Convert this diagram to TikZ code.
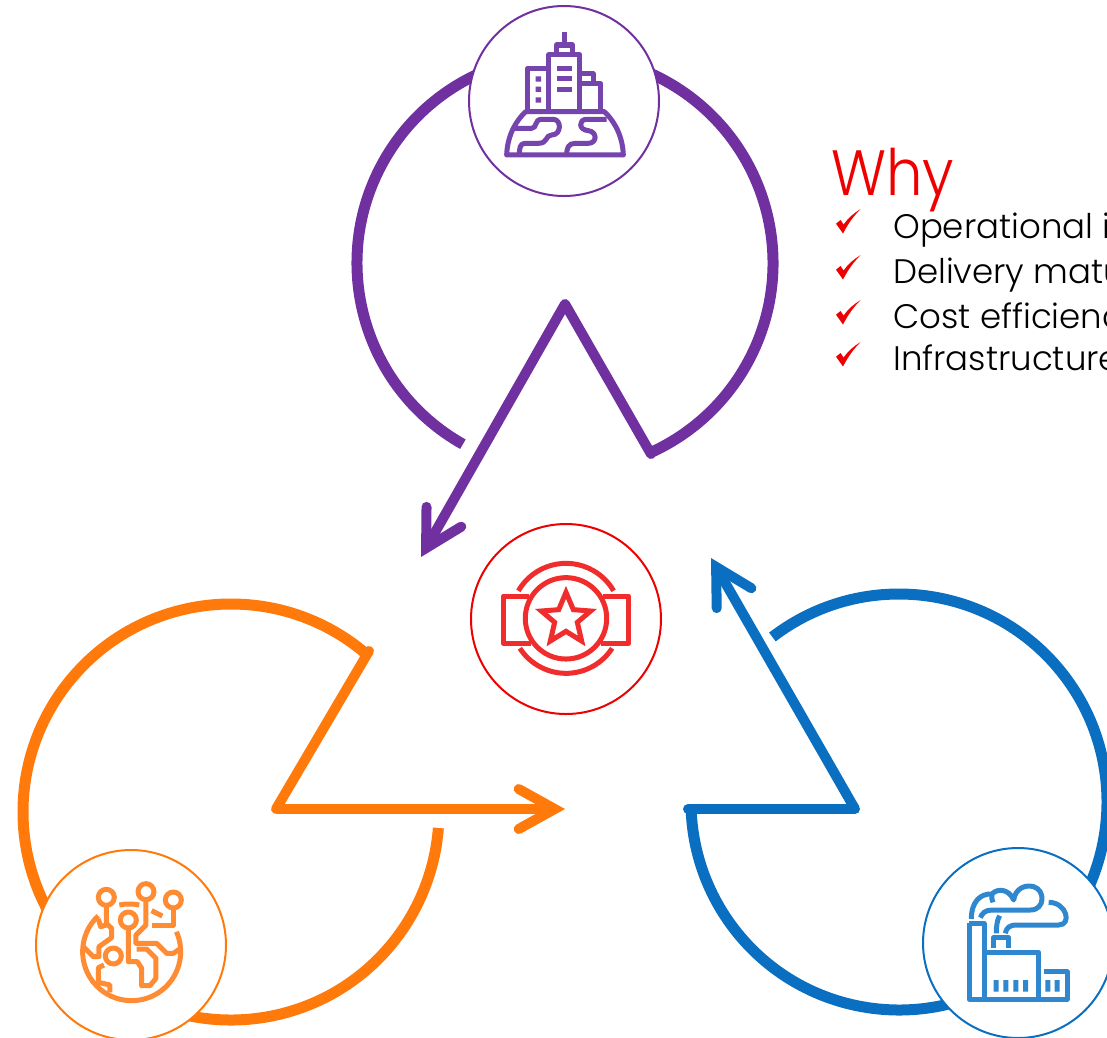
\documentclass[tikz,border=0pt]{standalone}
\usepackage{fontspec}
\setmainfont{Poppins}[UprightFont=* Light]
\usetikzlibrary{arrows.meta}
\definecolor{cpur}{HTML}{7030A0}
\definecolor{ipur}{HTML}{7544AC}
\definecolor{cora}{HTML}{FF7A0A}
\definecolor{iora}{HTML}{FF8B33}
\definecolor{cblu}{HTML}{0A6FC0}
\definecolor{iblu}{HTML}{2F87CF}
\definecolor{cred}{HTML}{EE0000}
\definecolor{ired}{HTML}{F02C2C}
\tikzset{
  loopline/.style={line width=11pt,line join=round},
  shaft/.style={line width=10pt,line join=round,line cap=round},
  barb/.style={-{Straight Barb[length=36pt,width=40pt,line width=10pt,line cap=round,line join=miter]}},
  badge/.style={circle,draw,fill=white,inner sep=0pt,minimum size=190pt,line width=2pt},
  glyph/.style={line width=5pt,line join=round,fill=none},
  why/.style={anchor=base west,inner sep=0pt,font=\fontsize{34}{40}\selectfont},
  chk/.pic={\fill[cred] (0,14.7) -- (4.5,11) -- (7.6,15.5) .. controls (12,9) and (18,4) .. (24.7,0) .. controls (17,7.5) and (12,15) .. (7,24.5) -- cycle;}
}
\begin{document}
\begin{tikzpicture}[x=1pt,y=-1pt]
\useasboundingbox (0,0) rectangle (1107,1037);
\clip (0,0) rectangle (1107,1037);
% loops
\coordinate (pc) at (565,263);
\coordinate (oc) at (231,812);
\coordinate (bc) at (899,802);
\coordinate (pstart) at (651,454);
\coordinate (papex) at (565,304);
\coordinate (ptip) at (421,557);
\coordinate (ostart) at (369,651);
\coordinate (oapex) at (276,809);
\coordinate (otip) at (565,809);
\coordinate (bstart) at (688,809);
\coordinate (bapex) at (855,809);
\coordinate (btip) at (711,558);
\draw[loopline,cpur] ([shift={(240.6:208pt)}]pc) arc[start angle=240.6,end angle=-65.8,radius=208pt];
\draw[shaft,cpur] (pstart) -- (papex);
\draw[shaft,cpur,line cap=butt,barb] (papex) -- (ptip);
\draw[loopline,cora] ([shift={(50:208pt)}]oc) arc[start angle=50,end angle=355.6,radius=208pt];
\draw[shaft,cora] (ostart) -- (oapex);
\draw[shaft,cora,line cap=butt,barb] (oapex) -- (otip);
\draw[loopline,cblu] ([shift={(127.5:208pt)}]bc) arc[start angle=127.5,end angle=-178,radius=208pt];
\draw[shaft,cblu] (bstart) -- (bapex);
\draw[shaft,cblu,line cap=butt,barb] (bapex) -- (btip);
% badges
\node[badge,draw=cpur] (city) at (564,101) {};
\node[badge,draw=cred] (award) at (566,619) {};
\node[badge,draw=cora] (tech) at (131,945) {};
\node[badge,draw=cblu] (factory) at (1018,943) {};
% city icon
\begin{scope}[shift={(460,0)},x=0.3333pt,y=-0.3333pt,glyph,draw=ipur]
\draw (313,97) -- (313,130);
\draw (290,160) -- (290,135) -- (337,135) -- (337,160);
\draw (267,330) -- (267,165) -- (360,165) -- (360,330);
\draw (267,205) -- (203,205) -- (203,330);
\fill[ipur] (227,229) rectangle +(16,16) (227,260) rectangle +(16,16) (227,292) rectangle +(16,16);
\draw (290,205) -- (337,205) (290,237) -- (337,237) (290,268) -- (337,268);
\draw (360,222) -- (400,222) -- (400,250);
\draw (360,252) -- (423,252) -- (423,330);
\draw (140,465) .. controls (142,410) and (165,365) .. (197,335) -- (433,335) .. controls (465,365) and (488,410) .. (490,465) -- cycle;
\draw (160,385) -- (215,385) .. controls (232,385) and (222,358) .. (245,358) -- (280,358) .. controls (305,358) and (305,405) .. (275,405) .. controls (255,405) and (265,430) .. (235,430) -- (195,430) .. controls (180,430) and (178,445) .. (178,465);
\draw (440,358) -- (380,358) .. controls (355,358) and (355,390) .. (385,392) .. controls (412,395) and (412,430) .. (385,430) -- (345,430) .. controls (325,430) and (320,445) .. (320,465);
\end{scope}
% award icon
\begin{scope}[shift={(460,515)},x=0.3333pt,y=-0.3333pt,glyph,draw=ired]
\draw (318,310) circle[radius=40.7pt];
\draw ([shift={(150:55pt)}]318,310) arc[start angle=150,end angle=30,radius=55pt];
\draw ([shift={(-147:55pt)}]318,310) arc[start angle=-147,end angle=-33,radius=55pt];
\draw (207,243) -- (130,243) -- (130,385) -- (212,385);
\draw (429,243) -- (505,243) -- (505,385) -- (424,385);
\draw[line join=miter] (318,232) -- (340,284) -- (392,288) -- (352,322) -- (365,378) -- (318,349) -- (271,378) -- (284,322) -- (244,288) -- (296,284) -- cycle;
\end{scope}
% technology icon
\begin{scope}[shift={(30,845)},x=0.3333pt,y=-0.3333pt,glyph,draw=iora]
\draw (229,157) circle[radius=8pt] (348,140) circle[radius=8pt] (430,165) circle[radius=8pt] (295,225) circle[radius=8pt] (250,333) circle[radius=8pt];
\draw ([shift={(133:49pt)}]305,320) arc[start angle=133,end angle=384,radius=49pt];
\draw (229,181) -- (229,235) -- (245,250) -- (245,278) -- (207,305) -- (207,335) -- (190,335) -- (160,305);
\draw (205,222) -- (212,245) -- (229,240);
\draw (268,180) .. controls (285,176) and (310,176) .. (328,180);
\draw (348,165) -- (348,240) -- (318,270) -- (318,295) -- (380,295) -- (410,325) -- (430,325) -- (452,310);
\draw (430,190) -- (430,240) -- (365,240);
\draw (365,197) -- (397,213);
\draw (295,250) -- (295,350) -- (322,350) -- (335,370) -- (335,422) -- (360,422) -- (378,400) -- (378,340) -- (350,312) -- (320,312);
\draw (222,360) -- (205,368) -- (205,412) -- (240,420) -- (240,442);
\end{scope}
% factory icon
\begin{scope}[shift={(917,845)},x=0.3333pt,y=-0.3333pt,glyph,draw=iblu]
\draw (157,235) -- (157,463) -- (450,463) -- (450,380) -- (380,380);
\draw (157,235) -- (201,235) -- (201,463);
\draw (201,322) -- (365,322) -- (365,463);
\draw (230,310) -- (230,278) -- (275,278) -- (275,310);
\fill[iblu] (230,405) rectangle +(15,35) (259,405) rectangle +(15,35) (289,405) rectangle +(15,35) (318,405) rectangle +(15,35) (385,405) rectangle +(15,35) (413,405) rectangle +(15,35);
\draw (163,222) .. controls (163,170) and (190,145) .. (225,147) .. controls (240,130) and (275,130) .. (290,165) .. controls (295,130) and (325,118) .. (350,125) .. controls (385,135) and (385,195) .. (340,195) -- (225,195) .. controls (205,195) and (195,205) .. (190,218);
\draw (225,147) .. controls (222,155) and (225,165) .. (228,172);
\draw (395,172) .. controls (450,172) and (465,240) .. (425,240) -- (300,240) .. controls (275,240) and (268,250) .. (265,265);
\draw (248,212) .. controls (240,225) and (238,245) .. (238,265);
\end{scope}
% text
\node[anchor=base west,inner sep=0pt,text=cred,xscale=0.9,font=\fontsize{64}{70}\selectfont] (whytitle) at (831,195) {Why};
\node[why] (w1) at (893,238) {Operational in};
\node[why] (w2) at (893,283) {Delivery matu};
\node[why] (w3) at (893,328) {Cost efficienc};
\node[why] (w4) at (893,370) {Infrastructure};
\pic at (836,209) {chk};
\pic at (836,255) {chk};
\pic at (836,300) {chk};
\pic at (836,342) {chk};
\end{tikzpicture}
\end{document}
